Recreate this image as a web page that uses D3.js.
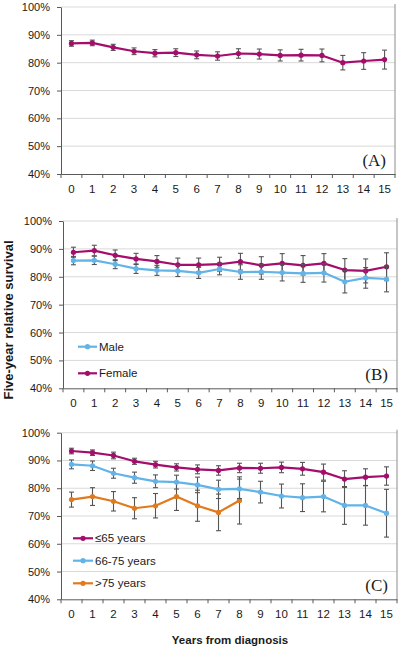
<!DOCTYPE html>
<html>
<head>
<meta charset="utf-8">
<script src="https://cdn.jsdelivr.net/npm/d3@7"></script>
<style>
  html, body { margin: 0; padding: 0; background: #fff; }
  svg { display: block; font-family: "Liberation Sans", Arial, sans-serif; }
</style>
</head>
<body>
<svg id="chart" width="400" height="652"></svg>
<script>
// ---------------- DATA ----------------
const years = [0,1,2,3,4,5,6,7,8,9,10,11,12,13,14,15];
const yTicks = [40,50,60,70,80,90,100];

// Panel A: overall
const overallValues = [86.9,87.1,85.5,84.1,83.4,83.6,82.8,82.4,83.3,83.1,82.6,82.7,82.6,80.0,80.6,81.1];
const overallErr    = [1.0,1.0,1.1,1.2,1.3,1.4,1.4,1.5,1.7,1.8,2.0,2.1,2.3,2.6,3.0,3.4];

// Panel B: by sex
const sexSeriesNames = ["Male","Female"];
const maleValues   = [85.8,85.9,84.5,82.9,82.3,82.1,81.4,82.8,81.7,81.8,81.5,81.2,81.4,78.2,79.6,79.2];
const maleErr      = [1.5,1.5,1.6,1.7,1.8,2.0,2.0,2.1,2.6,2.7,3.0,3.2,3.3,4.0,3.7,4.6];
const femaleValues = [88.8,89.4,87.7,86.4,85.5,84.3,84.3,84.5,85.4,84.1,84.8,84.1,84.8,82.4,82.1,83.6];
const femaleErr    = [1.8,1.9,1.9,2.0,2.1,2.4,2.4,2.5,3.0,3.1,3.5,3.5,3.5,4.1,4.3,5.0];

// Panel C: by age group
const ageSeriesNames = ["\u226465 years","66-75 years",">75 years"];
const age65Values  = [93.4,92.8,91.8,89.7,88.5,87.5,86.8,86.4,87.3,87.2,87.5,87.0,85.8,83.3,84.0,84.4];
const age65Err     = [1.0,1.0,1.2,1.1,1.2,1.3,1.6,1.7,1.7,1.8,1.9,2.3,2.9,3.0,3.0,3.3];
const age6675Values= [88.6,88.1,85.4,83.8,82.5,82.2,81.2,79.6,79.8,78.6,77.2,76.6,77.0,73.8,73.8,71.0];
const age6675Err   = [1.6,1.7,1.8,2.0,2.3,2.5,2.8,3.3,3.5,3.9,4.3,5.0,5.5,6.8,7.1,8.6];
const age75Values  = [75.9,77.0,75.3,72.8,73.7,77.0,73.7,71.3,75.6];
const age75Err     = [2.7,3.2,3.5,3.8,4.4,5.0,5.6,6.6,8.5];

const panelLabels = ["(A)","(B)","(C)"];
const xTitle = "Years from diagnosis";
const yTitle = "Five-year relative survival";

// ---------------- STYLE / LAYOUT ----------------
const C_MAG = "#a50d6c", C_BLUE = "#62b3e8", C_ORANGE = "#e07a1d";
const panels = [
  { label: panelLabels[0], left: 61, right: 395, top: 7, bottom: 174,
    series: [{ name: null, values: overallValues, err: overallErr, color: C_MAG }],
    legend: null },
  { label: panelLabels[1], left: 63, right: 397, top: 221, bottom: 388.3,
    series: [
      { name: sexSeriesNames[0], values: maleValues, err: maleErr, color: C_BLUE },
      { name: sexSeriesNames[1], values: femaleValues, err: femaleErr, color: C_MAG }],
    legend: { x0: 78, x1: 97, tx: 99, ys: [346.7, 373.3] } },
  { label: panelLabels[2], left: 61, right: 397, top: 432.7, bottom: 599.3,
    series: [
      { name: ageSeriesNames[0], values: age65Values, err: age65Err, color: C_MAG },
      { name: ageSeriesNames[1], values: age6675Values, err: age6675Err, color: C_BLUE },
      { name: ageSeriesNames[2], values: age75Values, err: age75Err, color: C_ORANGE }],
    legend: { x0: 73, x1: 93, tx: 95, ys: [538.3, 560.7, 583.3] } }
];

const svg = d3.select("#chart");

panels.forEach(p => {
  const x = d3.scaleBand().domain(years).range([p.left, p.right]).padding(0);
  const cx = d => x(d) + x.bandwidth() / 2;
  const y = d3.scaleLinear().domain([40, 100]).range([p.bottom, p.top]);
  const g = svg.append("g");

  // gridlines
  g.selectAll("line.grid").data(yTicks.filter(t => t > 40)).enter().append("line")
    .attr("x1", p.left).attr("x2", p.right)
    .attr("y1", d => y(d)).attr("y2", d => y(d))
    .attr("stroke", "#d9d9d9").attr("stroke-width", 1);

  // right frame
  g.append("line").attr("x1", p.right).attr("x2", p.right)
    .attr("y1", y(100) - 3).attr("y2", y(40))
    .attr("stroke", "#8c8c8c").attr("stroke-width", 1);

  // y axis
  const ya = g.append("g").attr("transform", `translate(${p.left},0)`)
    .call(d3.axisLeft(y).tickValues(yTicks).tickFormat(d => d + "%").tickSizeInner(4).tickSizeOuter(0).tickPadding(7));
  ya.select(".domain").attr("stroke", "#595959");
  ya.selectAll(".tick line").attr("stroke", "#595959");
  ya.selectAll("text").attr("font-size", 11).attr("fill", "#1a1a1a")
    .attr("font-family", "Liberation Sans, Arial, sans-serif");

  // x axis
  const xa = g.append("g").attr("transform", `translate(0,${p.bottom})`)
    .call(d3.axisBottom(x).tickSizeInner(0).tickSizeOuter(0).tickPadding(10.5));
  xa.select(".domain").attr("stroke", "#595959");
  xa.selectAll("text").attr("font-size", 11.5).attr("fill", "#1a1a1a")
    .attr("font-family", "Liberation Sans, Arial, sans-serif");
  // boundary tick marks
  g.selectAll("line.xb").data(d3.range(years.length + 1)).enter().append("line")
    .attr("x1", i => p.left + i * x.bandwidth()).attr("x2", i => p.left + i * x.bandwidth())
    .attr("y1", p.bottom).attr("y2", p.bottom + 4)
    .attr("stroke", "#595959").attr("stroke-width", 1);

  // series: draw in reverse so first listed is on top? draw order: later on top
  const drawOrder = p.series.slice().reverse();
  drawOrder.forEach(s => {
    const pts = s.values.map((v, i) => ({ yr: years[i], v, e: s.err[i] }));
    // error bars
    const eb = g.append("g").attr("stroke", "#555").attr("stroke-width", 1.1);
    pts.forEach(d => {
      eb.append("line").attr("x1", cx(d.yr)).attr("x2", cx(d.yr))
        .attr("y1", y(d.v + d.e)).attr("y2", y(d.v - d.e));
      eb.append("line").attr("x1", cx(d.yr) - 2.5).attr("x2", cx(d.yr) + 2.5)
        .attr("y1", y(d.v + d.e)).attr("y2", y(d.v + d.e));
      eb.append("line").attr("x1", cx(d.yr) - 2.5).attr("x2", cx(d.yr) + 2.5)
        .attr("y1", y(d.v - d.e)).attr("y2", y(d.v - d.e));
    });
    g.append("path").datum(pts)
      .attr("fill", "none").attr("stroke", s.color).attr("stroke-width", 2.2)
      .attr("stroke-linejoin", "round")
      .attr("d", d3.line().x(d => cx(d.yr)).y(d => y(d.v)));
    g.selectAll(null).data(pts).enter().append("circle")
      .attr("cx", d => cx(d.yr)).attr("cy", d => y(d.v)).attr("r", 2.6)
      .attr("fill", s.color);
  });

  // legend
  if (p.legend) {
    p.series.forEach((s, i) => {
      const ly = p.legend.ys[i];
      g.append("line").attr("x1", p.legend.x0).attr("x2", p.legend.x1)
        .attr("y1", ly).attr("y2", ly).attr("stroke", s.color).attr("stroke-width", 2.2);
      g.append("circle").attr("cx", (p.legend.x0 + p.legend.x1) / 2).attr("cy", ly)
        .attr("r", 2.6).attr("fill", s.color);
      g.append("text").attr("x", p.legend.tx).attr("y", ly).attr("dy", "0.36em")
        .attr("font-size", 11.5).attr("fill", "#1a1a1a").text(s.name);
    });
  }

  // panel label
  g.append("text").attr("x", p.right - 9).attr("y", p.bottom - 8)
    .attr("text-anchor", "end").attr("font-family", "Liberation Serif, Times New Roman, serif")
    .attr("font-size", 17).attr("fill", "#1a1a1a").text(p.label);
});

// axis titles
svg.append("text").attr("transform", "translate(12.5,320) rotate(-90)")
  .attr("text-anchor", "middle").attr("font-weight", "bold").attr("font-size", 13)
  .attr("fill", "#1a1a1a").text(yTitle);
svg.append("text").attr("x", 230).attr("y", 644)
  .attr("text-anchor", "middle").attr("font-weight", "bold").attr("font-size", 11.5)
  .attr("fill", "#1a1a1a").text(xTitle);
</script>
</body>
</html>
